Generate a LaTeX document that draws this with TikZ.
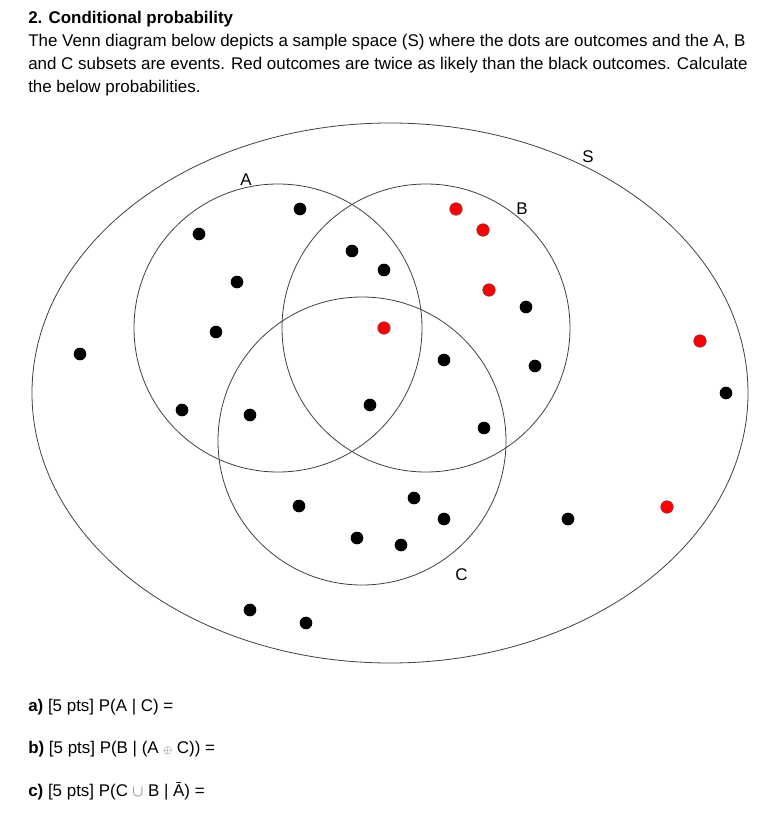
\documentclass[tikz,border=0pt]{standalone}
\usepackage{fontspec}
\setmainfont{Liberation Sans}
\begin{document}
\begin{tikzpicture}[x=0.75pt,y=-0.75pt,
  blk/.style={circle,fill=black,inner sep=0pt,minimum size=9.5pt},
  rd/.style={circle,fill=red,draw=black!70,line width=.3pt,inner sep=0pt,minimum size=9.5pt},
  venn/.style={draw=black!75,line width=.6pt},
  txt/.style={anchor=base west,inner sep=0pt,font=\fontsize{12.7}{15}\selectfont}]
\useasboundingbox(0,0)rectangle(774,832);
\node[txt,font=\fontsize{12.7}{15}\selectfont\bfseries](title) at(28,23){2. Conditional probability};
\node[txt](l1) at(28,46){The Venn diagram below depicts a sample space (S) where the dots are outcomes and the A, B};
\node[txt](l2) at(28,69){and C subsets are events. Red outcomes are twice as likely than the black outcomes. Calculate};
\node[txt](l3) at(28,92){the below probabilities.};
\draw[venn](390,393)ellipse(358 and 270);
\draw[venn](278,328)circle(144);\draw[venn](426,328)circle(144);\draw[venn](362,441)circle(144);
\node[txt](S) at(582,162){S};\node[txt](A) at(240,185){A};\node[txt](B) at(516,214){B};\node[txt](C) at(455,580){C};
\foreach \p [count=\i] in {(300,209),(199,234),(237,282),(216,332),(182,410),(250,415),(352,251),(384,270),(444,360),(370,405),(484,428),(526,307),(535,366),(80,354),(726,393),(568,519),(299,506),(414,498),(444,519),(357,538),(401,545),(250,610),(306,623)}
  \node[blk](b\i) at\p{};
\foreach \p [count=\i] in {(456,209),(483,230),(489,290),(384,328),(700,341),(667,507)}
  \node[rd](r\i) at\p{};
\node[txt](qa) at(28,711){\textbf{a)} [5 pts] P(A | C) =};
\node[txt](qb) at(28,753){\textbf{b)} [5 pts] P(B | (A {\color{black!60}\footnotesize$\oplus$} C)) =};
\node[txt](qc) at(28,796){\textbf{c)} [5 pts] P(C {\color{black!60}$\cup$} B | Ā) =};
\end{tikzpicture}
\end{document}
